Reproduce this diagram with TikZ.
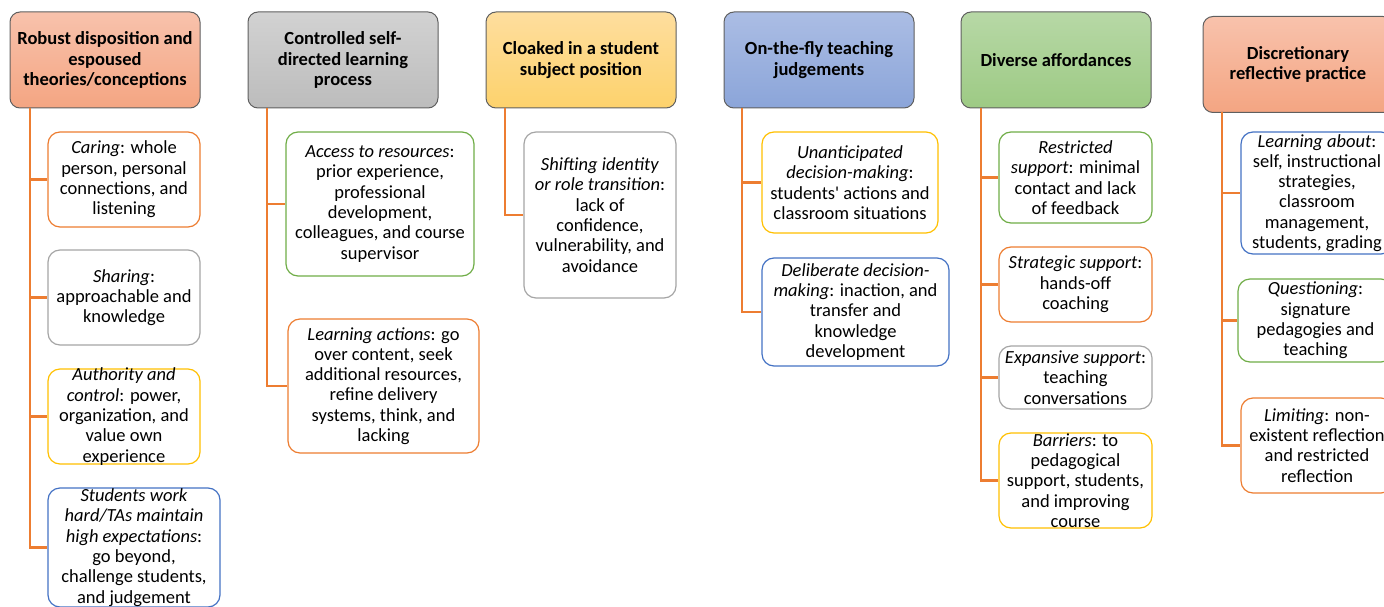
\documentclass[tikz,border=0pt]{standalone}
\usepackage{fontspec}
\setmainfont{Carlito}
\usepackage{tikz}

\definecolor{acorange}{HTML}{ED7D31}
\definecolor{acgray}{HTML}{A5A5A5}
\definecolor{acyellow}{HTML}{FFC000}
\definecolor{acblue}{HTML}{4472C4}
\definecolor{acgreen}{HTML}{70AD47}
\definecolor{headline}{HTML}{5F5F5F}
\definecolor{salmontop}{HTML}{F8C2AC}
\definecolor{salmonbot}{HTML}{F4A582}
\definecolor{graytop}{HTML}{D2D2D2}
\definecolor{graybot}{HTML}{BCBCBC}
\definecolor{yellowtop}{HTML}{FEDE9E}
\definecolor{yellowbot}{HTML}{FDD26C}
\definecolor{bluetop}{HTML}{ABBDE4}
\definecolor{bluebot}{HTML}{8BA5D9}
\definecolor{greentop}{HTML}{B7D8A6}
\definecolor{greenbot}{HTML}{9DCA84}

\begin{document}
\begin{tikzpicture}[x=1pt,y=-1pt,
	every node/.style={font=\fontsize{18.5}{20.3}\selectfont},
	head/.style={draw=headline,line width=1pt,rounded corners=10pt,minimum width=190,minimum height=96,align=center,font=\fontsize{18.5}{20.5}\selectfont\bfseries},
	sub/.style={draw=#1,line width=1.2pt,rounded corners=12pt,fill=white},
	txt/.style={align=center,inner sep=0pt},
	conn/.style={draw=acorange,line width=2.6pt}]
	\useasboundingbox (0,0) rectangle (1384,607);

	\node[head,top color=salmontop,bottom color=salmonbot] (robust) at (105,60) {Robust disposition and\\espoused\\theories/conceptions};
	\node[head,top color=graytop,bottom color=graybot] (selfdir) at (343,60) {Controlled self-\\directed learning\\process};
	\node[head,top color=yellowtop,bottom color=yellowbot] (cloaked) at (581,60) {Cloaked in a student\\subject position};
	\node[head,top color=bluetop,bottom color=bluebot] (onfly) at (819,60) {On-the-fly teaching\\judgements};
	\node[head,top color=greentop,bottom color=greenbot] (diverse) at (1056,60) {Diverse affordances};
	\node[head,top color=salmontop,bottom color=salmonbot] (discret) at (1298,64.5) {Discretionary\\reflective practice};

	\coordinate (t1) at (30,108);
	\coordinate (t2) at (267,108);
	\coordinate (t3) at (505,108);
	\coordinate (t4) at (742,108);
	\coordinate (t5) at (981,108);
	\coordinate (t6) at (1222,112);

	\node[sub=acorange,minimum width=152,minimum height=95] (caring) at (124,179.5) {};
	\node[txt] at (caring) {\textit{Caring}: whole\\person, personal\\connections, and\\listening};
	\node[sub=acgray,minimum width=152,minimum height=95] (sharing) at (124,297.5) {};
	\node[txt] at (sharing) {\textit{Sharing}:\\approachable and\\knowledge};
	\node[sub=acyellow,minimum width=152,minimum height=95] (authority) at (124,416.5) {};
	\node[txt] at (authority) {\textit{Authority and}\\\textit{control}: power,\\organization, and\\value own\\experience};
	\node[sub=acblue,minimum width=172,minimum height=119] (hardwork) at (134,547.5) {};
	\node[txt] at (hardwork) {\textit{Students work}\\\textit{hard/TAs maintain}\\\textit{high expectations}:\\go beyond,\\challenge students,\\and judgement};

	\node[sub=acgreen,minimum width=188,minimum height=144] (access) at (380,204) {};
	\node[txt] at (access) {\textit{Access to resources}:\\prior experience,\\professional\\development,\\colleagues, and course\\supervisor};
	\node[sub=acorange,minimum width=191,minimum height=134] (actions) at (383.5,386) {};
	\node[txt] at (actions) {\textit{Learning actions}: go\\over content, seek\\additional resources,\\refine delivery\\systems, think, and\\lacking};

	\node[sub=acgray,minimum width=152,minimum height=166] (shifting) at (600,215) {};
	\node[txt] at (shifting) {\textit{Shifting identity}\\\textit{or role transition}:\\lack of\\confidence,\\vulnerability, and\\avoidance};

	\node[sub=acyellow,minimum width=176,minimum height=101] (unantic) at (850,182.5) {};
	\node[txt] at (unantic) {\textit{Unanticipated}\\\textit{decision-making}:\\students\textquotesingle\ actions and\\classroom situations};
	\node[sub=acblue,minimum width=187,minimum height=108] (deliber) at (855.5,312) {};
	\node[txt] at (deliber) {\textit{Deliberate decision-}\\\textit{making}: inaction, and\\transfer and\\knowledge\\development};

	\node[sub=acgreen,minimum width=153,minimum height=91] (restrict) at (1075.5,177.5) {};
	\node[txt] at (restrict) {\textit{Restricted}\\\textit{support}: minimal\\contact and lack\\of feedback};
	\node[sub=acorange,minimum width=153,minimum height=75] (strategic) at (1075.5,284.5) {};
	\node[txt] at (strategic) {\textit{Strategic support}:\\hands-off\\coaching};
	\node[sub=acgray,minimum width=153,minimum height=63] (expansive) at (1075.5,377.5) {};
	\node[txt] at (expansive) {\textit{Expansive support}:\\teaching\\conversations};
	\node[sub=acyellow,minimum width=153,minimum height=95] (barriers) at (1075.5,480.5) {};
	\node[txt] at (barriers) {\textit{Barriers}: to\\pedagogical\\support, students,\\and improving\\course};

	\node[sub=acblue,minimum width=152,minimum height=122] (learnabout) at (1317,193) {};
	\node[txt] at (learnabout) {\textit{Learning about}:\\self, instructional\\strategies,\\classroom\\management,\\students, grading};
	\node[sub=acgreen,minimum width=155,minimum height=83] (question) at (1315.5,320.5) {};
	\node[txt] at (question) {\textit{Questioning}:\\signature\\pedagogies and\\teaching};
	\node[sub=acorange,minimum width=152,minimum height=95] (limiting) at (1317,445.5) {};
	\node[txt] at (limiting) {\textit{Limiting}: non-\\existent reflection\\and restricted\\reflection};

	\foreach \from/\to in {t1/caring,t1/sharing,t1/authority,t1/hardwork,t2/access,t2/actions,t3/shifting,t4/unantic,t4/deliber,t5/restrict,t5/strategic,t5/expansive,t5/barriers,t6/learnabout,t6/question,t6/limiting}
		\draw[conn] (\from) |- (\to.west);

\end{tikzpicture}
\end{document}
